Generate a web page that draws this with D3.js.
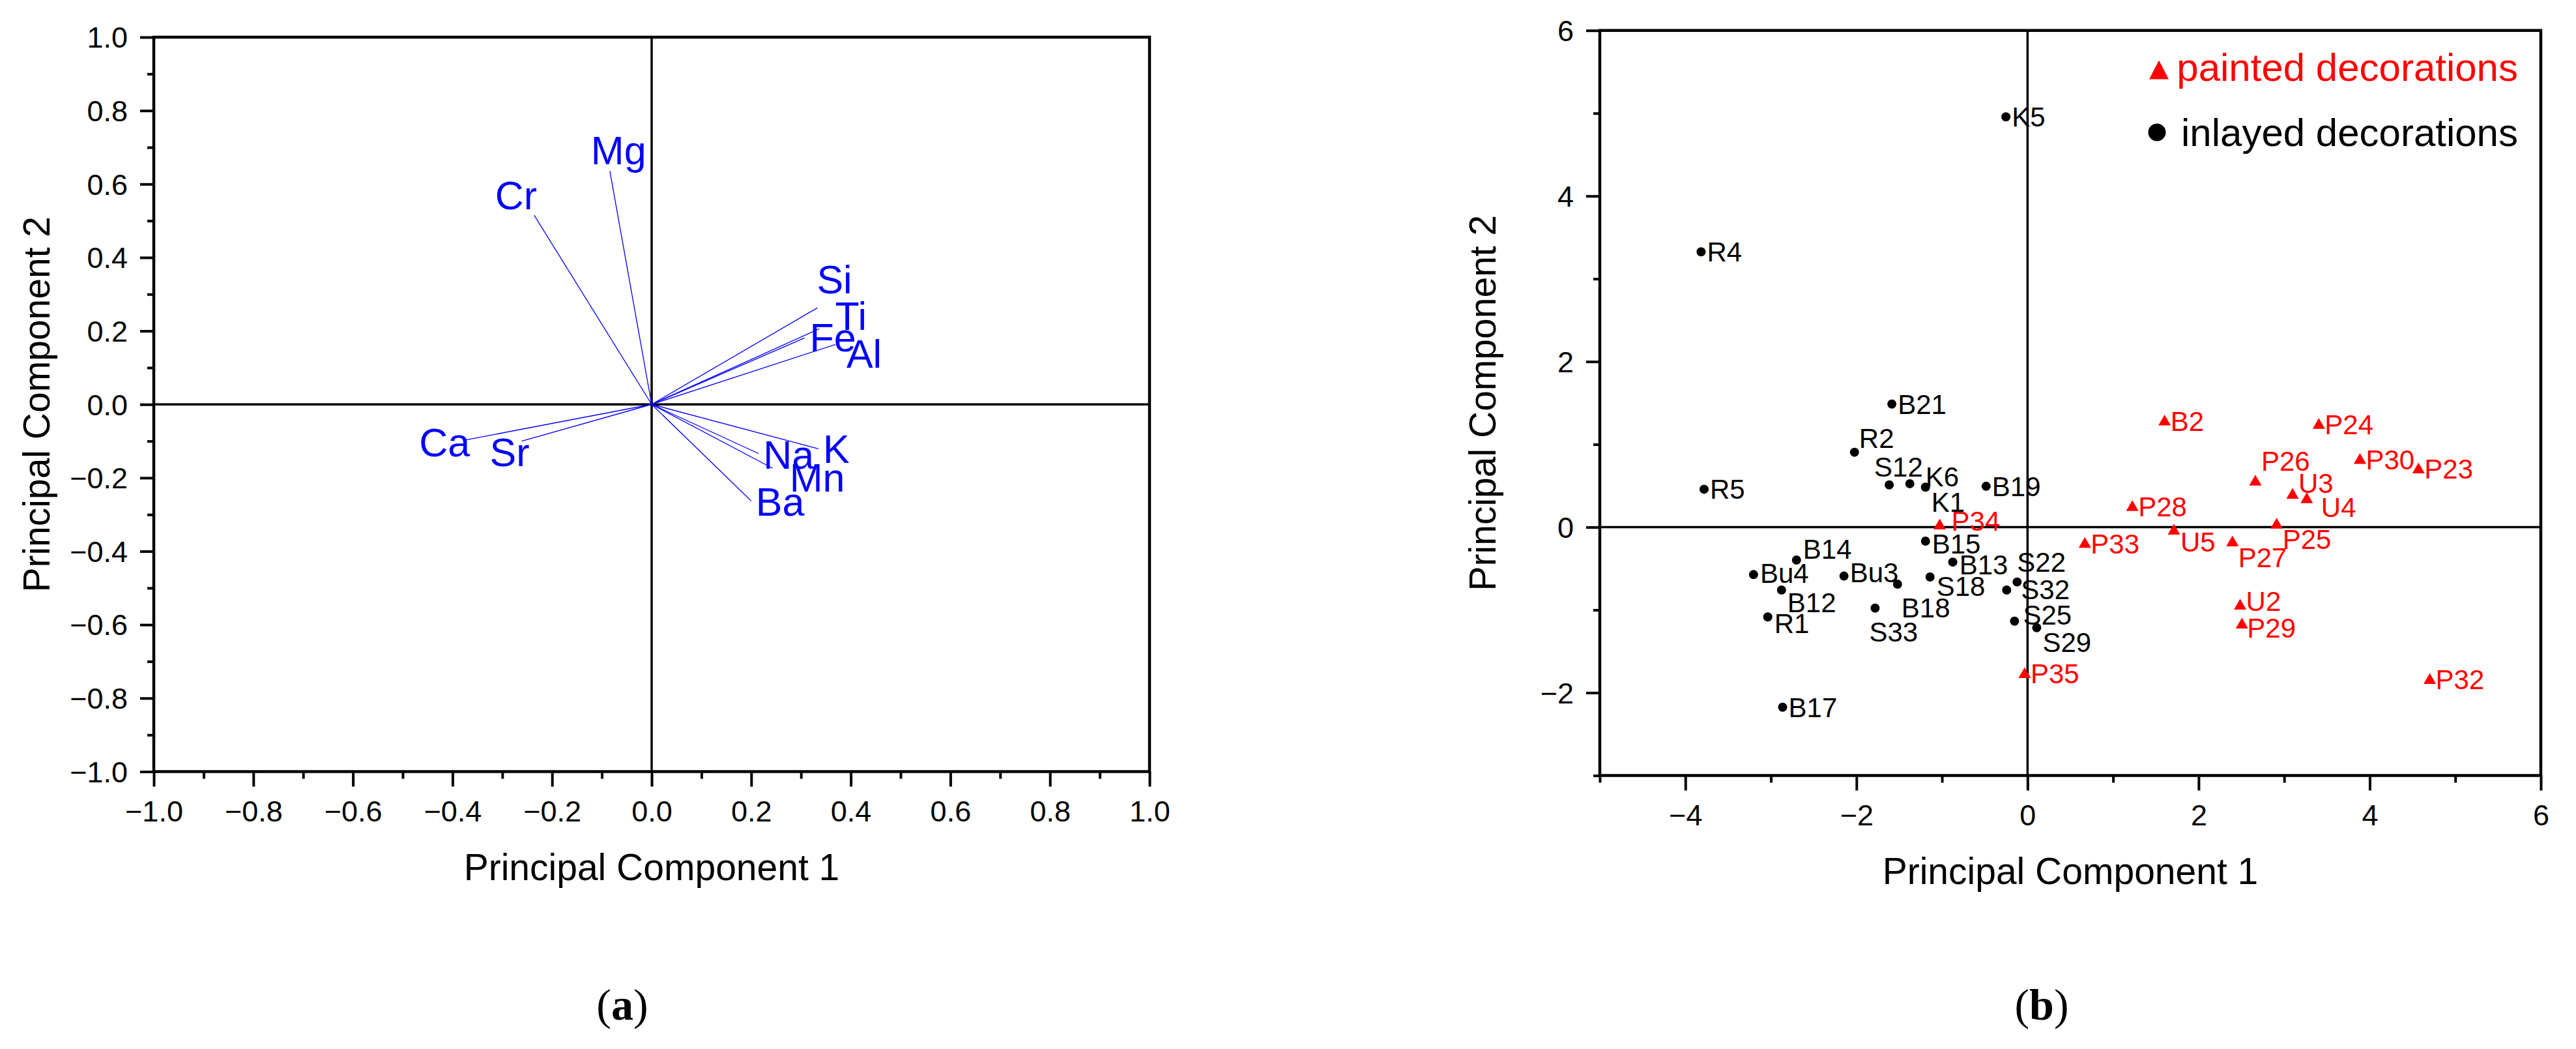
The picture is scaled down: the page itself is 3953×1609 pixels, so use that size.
<!DOCTYPE html>
<html>
<head>
<meta charset="utf-8">
<script src="https://cdn.jsdelivr.net/npm/d3@7"></script>
<style>
  html, body { margin: 0; padding: 0; background: #ffffff; }
  svg { display: block; }
</style>
</head>
<body>
<script>
// ---------------- DATA ----------------
// (a) loading plot
const elements    = ["Cr", "Mg", "Si", "Ti", "Fe", "Al", "K", "Na", "Mn", "Ba", "Ca", "Sr"];
const loadingPC1  = [-0.236, -0.084, 0.333, 0.337, 0.307, 0.369, 0.335, 0.215, 0.243, 0.200, -0.374, -0.261];
const loadingPC2  = [0.515, 0.636, 0.263, 0.206, 0.181, 0.163, -0.121, -0.134, -0.174, -0.263, -0.097, -0.100];
const ticksA      = [-1.0, -0.8, -0.6, -0.4, -0.2, 0.0, 0.2, 0.4, 0.6, 0.8, 1.0];
const minorTicksA = [-0.9, -0.7, -0.5, -0.3, -0.1, 0.1, 0.3, 0.5, 0.7, 0.9];

// (b) score plot
const seriesNames   = ["painted decorations", "inlayed decorations"];
const paintedNames  = ["B2", "P24", "P30", "P23", "P26", "U3", "U4", "P28", "P25", "U5", "P33", "P27", "U2", "P29", "P32", "P35", "P34"];
const paintedPC1    = [1.602, 3.405, 3.886, 4.570, 2.663, 3.098, 3.264, 1.225, 2.912, 1.711, 0.670, 2.395, 2.485, 2.506, 4.702, -0.034, -1.027];
const paintedPC2    = [1.282, 1.240, 0.817, 0.702, 0.554, 0.395, 0.342, 0.247, 0.035, -0.038, -0.197, -0.179, -0.943, -1.172, -1.841, -1.771, 0.025];
const inlayedNames  = ["K5", "R4", "B21", "R2", "S12", "K6", "K1", "B19", "R5", "B15", "B14", "B13", "Bu4", "Bu3", "S18", "B18", "B12", "S22", "S32", "S33", "R1", "S25", "S29", "B17"];
const inlayedPC1    = [-0.253, -3.816, -1.586, -2.023, -1.617, -1.376, -1.193, -0.484, -3.781, -1.193, -2.701, -0.874, -3.203, -2.146, -1.140, -1.520, -2.876, -0.122, -0.244, -1.782, -3.037, -0.152, 0.107, -2.863];
const inlayedPC2    = [4.956, 3.326, 1.487, 0.905, 0.511, 0.525, 0.483, 0.494, 0.458, -0.169, -0.397, -0.422, -0.573, -0.591, -0.602, -0.689, -0.760, -0.662, -0.760, -0.978, -1.084, -1.136, -1.214, -2.175];
const ticksBx       = [-4, -2, 0, 2, 4, 6];
const minorTicksBx  = [-5, -3, -1, 1, 3, 5];
const ticksBy       = [-2, 0, 2, 4, 6];
const minorTicksBy  = [-3, -1, 1, 3, 5];

// ---------------- LAYOUT (label nudges in px: [dx to text start, dy to baseline]) ----------------
const loadingLabelNudge = {
  Cr: [-60, -9], Mg: [-29, -10], Si: [-1, -22], Ti: [24, 2], Fe: [8, 21], Al: [17, 36],
  K: [7, 22], Na: [7, 23], Mn: [26, 36], Ba: [7, 23], Ca: [-71, 25], Sr: [-49, 38]
};
const defaultNudge = [9, 15];
const scoreLabelNudge = {
  R2: [7, -7], S12: [-23, -13], K6: [24, 4], K1: [9, 38], P34: [18, 9], B15: [10, 19],
  B14: [10, -2], B13: [10, 19], Bu4: [10, 13], Bu3: [9, 9], S18: [10, 29], B18: [6, 51],
  B12: [9, 34], S22: [0, -16], S32: [22, 14], S33: [-9, 51], R1: [10, 25], S25: [13, 5],
  S29: [9, 37], P26: [9, -16], U3: [9, -2], U4: [22, 28], P25: [9, 38], U5: [10, 33],
  P27: [9, 39], U2: [9, 9], P29: [8, 21]
};

// ---------------- DRAWING ----------------
const W = 3953, H = 1609;
const FONT = "'Liberation Sans', Arial, Helvetica, sans-serif";
const svg = d3.select("body").append("svg").attr("width", W).attr("height", H)
  .style("background", "#fff");

const xA = d3.scaleLinear().domain([-1, 1]).range([236, 1764]);
const yA = d3.scaleLinear().domain([-1, 1]).range([1183.5, 57]);
const xB = d3.scaleLinear().domain([-5, 6]).range([2455, 3899]);
const yB = d3.scaleLinear().domain([-3, 6]).range([1189.5, 46.7]);

function frame(g, x, y, xMaj, xMin, yMaj, yMin, fmt) {
  const [x0, x1] = x.range();
  const [y0, y1] = y.range(); // y0 bottom, y1 top
  // zero lines
  g.append("line").attr("x1", x0).attr("x2", x1).attr("y1", y(0)).attr("y2", y(0))
    .attr("stroke", "#000").attr("stroke-width", 3.5);
  g.append("line").attr("x1", x(0)).attr("x2", x(0)).attr("y1", y1).attr("y2", y0)
    .attr("stroke", "#000").attr("stroke-width", 3.5);

  // axes
  const styleAxis = sel => {
    sel.select(".domain").remove();
    sel.selectAll(".tick line").attr("stroke", "#000").attr("stroke-width", 4);
    sel.selectAll(".tick text").attr("fill", "#000").style("font-family", FONT).style("font-size", "45px");
  };
  const bMaj = g.append("g").attr("transform", `translate(0,${y0})`)
    .call(d3.axisBottom(x).tickValues(xMaj).tickSize(23).tickFormat(fmt)).call(styleAxis);
  bMaj.selectAll(".tick text").attr("y", 76).attr("dy", 0);
  g.append("g").attr("transform", `translate(0,${y0})`)
    .call(d3.axisBottom(x).tickValues(xMin).tickSize(11).tickFormat("")).call(styleAxis);
  const lMaj = g.append("g").attr("transform", `translate(${x0},0)`)
    .call(d3.axisLeft(y).tickValues(yMaj).tickSize(21).tickFormat(fmt)).call(styleAxis);
  lMaj.selectAll(".tick text").attr("x", -40).attr("dy", "0.35em");
  g.append("g").attr("transform", `translate(${x0},0)`)
    .call(d3.axisLeft(y).tickValues(yMin).tickSize(10).tickFormat("")).call(styleAxis);

  // frame box
  g.append("rect").attr("x", x0).attr("y", y1).attr("width", x1 - x0).attr("height", y0 - y1)
    .attr("fill", "none").attr("stroke", "#000").attr("stroke-width", 4.5);

  // titles
  g.append("text").attr("x", (x0 + x1) / 2).attr("y", y0 + 166)
    .attr("text-anchor", "middle").style("font-family", FONT).style("font-size", "57px")
    .text("Principal Component 1");
  g.append("text").attr("transform", `translate(${x0 - 160},${(y0 + y1) / 2}) rotate(-90)`)
    .attr("text-anchor", "middle").style("font-family", FONT).style("font-size", "57px")
    .text("Principal Component 2");
}

// ---- Panel (a)
const gA = svg.append("g");
frame(gA, xA, yA, ticksA, minorTicksA, ticksA, minorTicksA, d3.format(".1f"));

const loadings = elements.map((e, i) => ({ name: e, x: loadingPC1[i], y: loadingPC2[i] }));
gA.append("g").selectAll("line").data(loadings).join("line")
  .attr("x1", xA(0)).attr("y1", yA(0))
  .attr("x2", d => xA(d.x)).attr("y2", d => yA(d.y))
  .attr("stroke", "#0000ff").attr("stroke-width", 1.3);
gA.append("g").selectAll("text").data(loadings).join("text")
  .attr("x", d => xA(d.x) + loadingLabelNudge[d.name][0])
  .attr("y", d => yA(d.y) + loadingLabelNudge[d.name][1])
  .attr("fill", "#0000ff").style("font-family", FONT).style("font-size", "61px")
  .text(d => d.name);

// ---- Panel (b)
const gB = svg.append("g");
frame(gB, xB, yB, ticksBx, minorTicksBx, ticksBy, minorTicksBy, d3.format("d"));

const painted = paintedNames.map((n, i) => ({ name: n, x: paintedPC1[i], y: paintedPC2[i] }));
const inlayed = inlayedNames.map((n, i) => ({ name: n, x: inlayedPC1[i], y: inlayedPC2[i] }));

const tri = (w, h) => `M0,${-h * 0.6}L${w / 2},${h * 0.4}L${-w / 2},${h * 0.4}Z`;

gB.append("g").selectAll("circle").data(inlayed).join("circle")
  .attr("cx", d => xB(d.x)).attr("cy", d => yB(d.y)).attr("r", 7).attr("fill", "#000");
gB.append("g").selectAll("path").data(painted).join("path")
  .attr("transform", d => `translate(${xB(d.x)},${yB(d.y)})`)
  .attr("d", tri(19, 16.5)).attr("fill", "#ff0000");

const nudge = n => scoreLabelNudge[n] || defaultNudge;
gB.append("g").selectAll("text").data(inlayed).join("text")
  .attr("x", d => xB(d.x) + nudge(d.name)[0]).attr("y", d => yB(d.y) + nudge(d.name)[1])
  .attr("fill", "#000").style("font-family", FONT).style("font-size", "42px").text(d => d.name);
gB.append("g").selectAll("text").data(painted).join("text")
  .attr("x", d => xB(d.x) + nudge(d.name)[0]).attr("y", d => yB(d.y) + nudge(d.name)[1])
  .attr("fill", "#ff0000").style("font-family", FONT).style("font-size", "42px").text(d => d.name);

// legend
const lg = gB.append("g");
lg.append("path").attr("transform", "translate(3313,110)").attr("d", tri(30, 29)).attr("fill", "#ff0000");
lg.append("text").attr("x", 3864).attr("y", 124).attr("text-anchor", "end")
  .attr("fill", "#ff0000").style("font-family", FONT).style("font-size", "60px").text(seriesNames[0]);
lg.append("circle").attr("cx", 3310).attr("cy", 203).attr("r", 13.5).attr("fill", "#000");
lg.append("text").attr("x", 3864).attr("y", 224).attr("text-anchor", "end")
  .attr("fill", "#000").style("font-family", FONT).style("font-size", "60px").text(seriesNames[1]);

// panel captions
function caption(x, letter) {
  const t = svg.append("text").attr("x", x).attr("y", 1564).attr("text-anchor", "middle")
    .style("font-family", "'Liberation Serif', 'Times New Roman', serif").style("font-size", "68px");
  t.append("tspan").text("(");
  t.append("tspan").style("font-weight", "bold").text(letter);
  t.append("tspan").text(")");
}
caption(955, "a");
caption(3133, "b");
</script>
</body>
</html>
